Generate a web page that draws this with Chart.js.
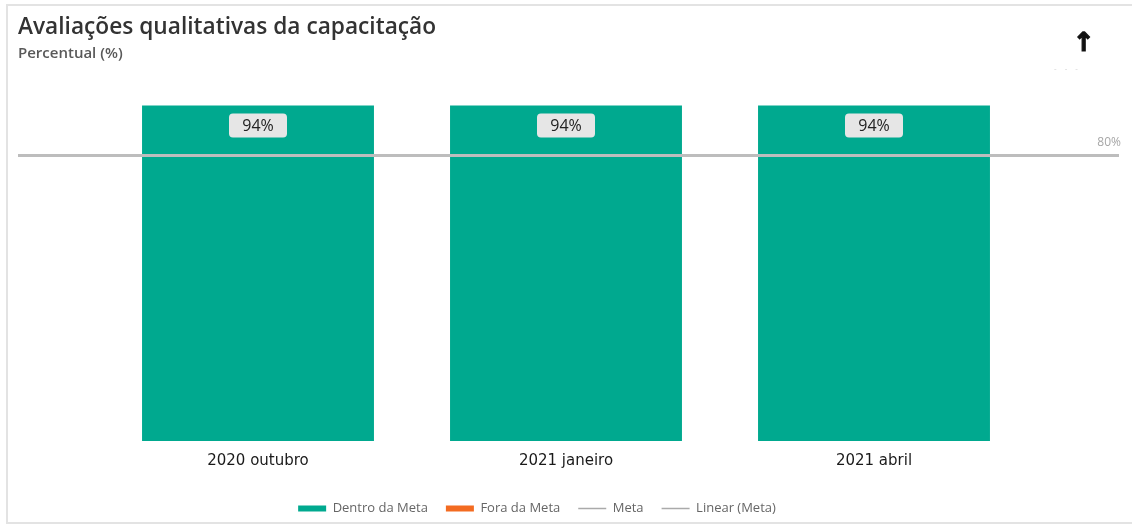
<!DOCTYPE html>
<html>
<head>
<meta charset="utf-8">
<script src="https://cdn.jsdelivr.net/npm/chart.js@4/dist/chart.umd.min.js"></script>
<style>
    html, body { margin: 0; padding: 0; background: #fff; }
    #wrap { position: relative; width: 1132px; height: 526px; overflow: hidden; }
    #frame {
        position: absolute; left: 6px; top: 4px; width: 1140px; height: 516px;
        border: 2px solid #e3e3e3; border-right: none;
    }
    #title {
        position: absolute; left: 18px; top: 10px;
        font: 600 22.7px "Open Sans", sans-serif; color: #333;
    }
    #subtitle {
        position: absolute; left: 18px; top: 42px;
        font: 600 15px "Open Sans", sans-serif; color: #595959;
    }
    #arrow {
        position: absolute; left: 1073px; top: 27px;
        font: bold 26px "DejaVu Sans", sans-serif; color: #111;
        -webkit-text-stroke: 1.2px #111;
    }
    #arrowNote {
        position: absolute; left: 1054px; top: 62px;
        font: 8px "Open Sans", sans-serif; color: #d0d0d0; letter-spacing: 3px;
    }
    canvas { position: absolute; left: 0; top: 0; }
</style>
</head>
<body>
<div id="wrap">
    <div id="frame"></div>
    <canvas id="chart" width="1132" height="526"></canvas>
    <div id="title">Avaliações qualitativas da capacitação</div>
    <div id="subtitle">Percentual (%)</div>
    <div id="arrow">↑</div>
    <div id="arrowNote">- - -</div>
</div>
<script>
const categories = ['2020 outubro', '2021 janeiro', '2021 abril'];
const dentroDaMeta = [94, 94, 94];
const foraDaMeta = [0, 0, 0];
const meta = [80, 80, 80];
const linearMeta = [80, 80, 80];
const metaLabel = '80%';

const green = '#00a98f';
const orange = '#f36b21';
const lineGray = '#bdbdbd';

// Meta line runs across the whole card, plus its label on the right
const metaLinePlugin = {
    id: 'metaLine',
    afterDatasetsDraw(chart) {
        const ctx = chart.ctx;
        const y = chart.scales.y.getPixelForValue(meta[0]);
        ctx.save();
        ctx.strokeStyle = lineGray;
        ctx.lineWidth = 3;
        ctx.beginPath();
        ctx.moveTo(18, y);
        ctx.lineTo(1119, y);
        ctx.stroke();
        ctx.fillStyle = '#a6a6a6';
        ctx.font = '12px "Open Sans", sans-serif';
        ctx.textAlign = 'right';
        ctx.textBaseline = 'middle';
        ctx.fillText(metaLabel, 1121, y - 13);
        ctx.restore();
    }
};

// "94%" tags inside the top of each bar
const valueTagPlugin = {
    id: 'valueTags',
    afterDraw(chart) {
        const ctx = chart.ctx;
        const bars = chart.getDatasetMeta(0).data;
        ctx.save();
        ctx.font = '16px "Open Sans", sans-serif';
        ctx.textAlign = 'center';
        ctx.textBaseline = 'middle';
        bars.forEach((bar, i) => {
            const text = dentroDaMeta[i] + '%';
            const w = 58, h = 24;
            const cy = bar.y + 20;
            ctx.fillStyle = '#e6e6e6';
            ctx.beginPath();
            ctx.roundRect(bar.x - w / 2, cy - h / 2, w, h, 4);
            ctx.fill();
            ctx.fillStyle = '#222';
            ctx.fillText(text, bar.x, cy + 1);
        });
        ctx.restore();
    }
};

new Chart(document.getElementById('chart'), {
    type: 'bar',
    data: {
        labels: categories,
        datasets: [
            {
                label: 'Dentro da Meta',
                data: dentroDaMeta,
                backgroundColor: green,
                categoryPercentage: 1,
                barPercentage: 0.753
            },
            {
                label: 'Fora da Meta',
                data: foraDaMeta,
                backgroundColor: orange,
                categoryPercentage: 1,
                barPercentage: 0.753
            },
            {
                type: 'line',
                label: 'Meta',
                data: meta,
                stack: 'meta',
                borderColor: lineGray,
                showLine: false,
                pointRadius: 0
            },
            {
                type: 'line',
                label: 'Linear (Meta)',
                data: linearMeta,
                stack: 'linear',
                borderColor: lineGray,
                showLine: false,
                pointRadius: 0
            }
        ]
    },
    options: {
        responsive: false,
        animation: false,
        layout: { padding: { top: 84, left: 46, right: 104, bottom: 1 } },
        scales: {
            x: {
                stacked: true,
                grid: { display: false, drawTicks: false },
                border: { display: false },
                ticks: {
                    padding: 11,
                    color: '#1a1a1a',
                    font: { family: 'DejaVu Sans', size: 15 }
                },
                afterFit: s => { s.height = 43; }
            },
            y: {
                stacked: true,
                min: 0,
                max: 100,
                grid: { display: false, drawTicks: false },
                border: { display: false },
                ticks: { display: false },
                afterFit: s => { s.width = 58; }
            }
        },
        plugins: {
            tooltip: { enabled: false },
            legend: {
                position: 'bottom',
                labels: {
                    usePointStyle: true,
                    pointStyleWidth: 28,
                    boxHeight: 6,
                    padding: 18,
                    color: '#666',
                    font: { family: 'Open Sans', size: 13 },
                    generateLabels: chart => chart.data.datasets.map((ds, i) => {
                        const isLine = ds.type === 'line';
                        return {
                            text: ds.label,
                            datasetIndex: i,
                            fillStyle: isLine ? lineGray : ds.backgroundColor,
                            strokeStyle: isLine ? '#aaa' : ds.backgroundColor,
                            lineWidth: isLine ? 1.5 : 0,
                            pointStyle: isLine ? 'line' : 'rect',
                            fontColor: '#666',
                            hidden: false
                        };
                    })
                }
            }
        }
    },
    plugins: [metaLinePlugin, valueTagPlugin]
});
</script>
</body>
</html>
